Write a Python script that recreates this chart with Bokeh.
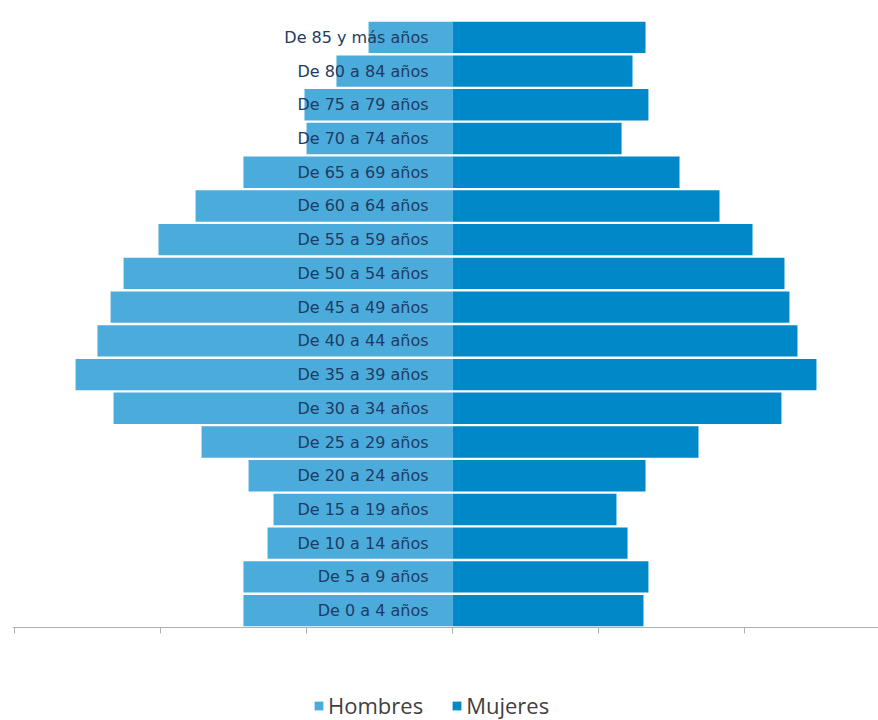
from bokeh.plotting import figure
from bokeh.models import (ColumnDataSource, Range1d, FixedTicker,
                          CustomJSTickFormatter, Legend, LegendItem)
from bokeh.core.properties import value
from bokeh.embed import file_html
from bokeh.resources import INLINE

# ---- data (bottom to top) ----
grupos = ["De 0 a 4 años", "De 5 a 9 años", "De 10 a 14 años", "De 15 a 19 años",
          "De 20 a 24 años", "De 25 a 29 años", "De 30 a 34 años", "De 35 a 39 años",
          "De 40 a 44 años", "De 45 a 49 años", "De 50 a 54 años", "De 55 a 59 años",
          "De 60 a 64 años", "De 65 a 69 años", "De 70 a 74 años", "De 75 a 79 años",
          "De 80 a 84 años", "De 85 y más años"]
hombres = [1432, 1432, 1267, 1226, 1397, 1719, 2322, 2582, 2432, 2342, 2253, 2014,
           1760, 1432, 1000, 1014, 795, 575]
mujeres = [1308, 1342, 1199, 1123, 1322, 1685, 2253, 2493, 2363, 2308, 2274, 2055,
           1829, 1555, 1158, 1342, 1233, 1322]
ticks = [-3000, -2000, -1000, 0, 1000, 2000, 3000]

n = len(grupos)
src = ColumnDataSource(dict(
    grupo=grupos,
    pos=list(range(n)),
    h_left=[-v for v in hombres],
    h_right=[0] * n,
    m_left=[0] * n,
    m_right=mujeres,
))

p = figure(width=878, height=720, output_backend="svg", toolbar_location=None,
           x_range=Range1d(-3014, 2918), y_range=Range1d(-3.258, 18.093),
           x_axis_location="above",
           min_border_left=12, min_border_right=0, min_border_top=0,
           min_border_bottom=0)
p.outline_line_color = None
p.grid.visible = False
p.yaxis.visible = False

rh = p.hbar(y="pos", left="h_left", right="h_right", height=0.93, source=src,
            fill_color="#4BACDC", line_color=None)
rm = p.hbar(y="pos", left="m_left", right="m_right", height=0.93, source=src,
            fill_color="#0088C8", line_color=None)

p.text(x="h_right", y="pos", text="grupo", source=src, x_offset=-24,
       text_align="right", text_baseline="middle",
       text_font=value("DejaVu Sans"), text_font_size="16px", text_color="#1F3B63")

xa = p.xaxis[0]
xa.fixed_location = -0.5
xa.ticker = FixedTicker(ticks=ticks)
xa.formatter = CustomJSTickFormatter(code="return ''")
xa.major_label_standoff = 0
xa.axis_line_color = "#B0B0B0"
xa.major_tick_line_color = "#B0B0B0"
xa.major_tick_out = 0
xa.major_tick_in = 6
xa.minor_tick_line_color = None

legend = Legend(items=[LegendItem(label="Hombres", renderers=[rh]),
                       LegendItem(label="Mujeres", renderers=[rm])],
                orientation="horizontal", location=(301, 0))
legend.border_line_color = None
legend.background_fill_alpha = 0
legend.padding = 0
legend.margin = 0
legend.spacing = 28
legend.glyph_width = 11
legend.glyph_height = 11
legend.label_standoff = 4
legend.label_text_font = "Open Sans"
legend.label_text_font_size = "22px"
legend.label_text_color = "#404040"
p.add_layout(legend)

open("out.html", "w").write(file_html(p, INLINE))
